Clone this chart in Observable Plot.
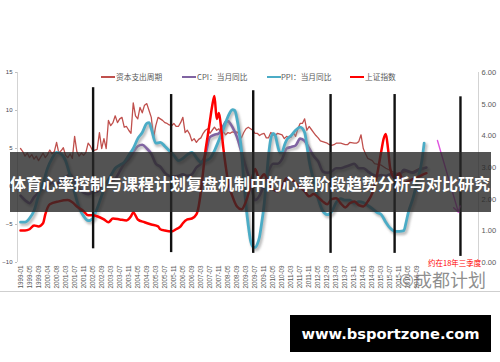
<!DOCTYPE html>
<html><head><meta charset="utf-8">
<script src="https://cdn.jsdelivr.net/npm/d3@7"></script>
<script src="https://cdn.jsdelivr.net/npm/@observablehq/plot@0.6"></script>
<style>
body{margin:0;background:#fff;}
#wrap{position:relative;width:500px;height:362px;overflow:hidden;background:#fff;font-family:"Liberation Sans",Arial,sans-serif;}
#chart{position:absolute;left:0;top:0;}
.sw{position:absolute;width:14px;}
.lt{position:absolute;top:71px;height:12px;line-height:12px;font-size:7.7px;font-family:"Noto Sans CJK SC",sans-serif;color:#595959;white-space:nowrap;}
#band{position:absolute;left:10px;top:152px;width:481px;height:60px;background:rgba(40,40,40,0.8);}
#title{position:absolute;left:0;top:153px;width:500px;height:60px;line-height:60px;text-align:center;color:#fff;font-weight:bold;font-size:16px;font-family:"Noto Sans CJK SC",sans-serif;white-space:nowrap;}
#sep{position:absolute;left:0;top:291px;width:500px;height:1px;background:#cfcfcf;}
#site{position:absolute;left:290px;top:315px;width:201px;height:37px;background:#000;color:#fff;font-weight:bold;font-size:14.7px;font-family:"DejaVu Sans",sans-serif;line-height:37px;text-align:center;}
#wm{position:absolute;left:399px;top:269px;height:20px;line-height:20px;font-size:18px;font-family:"Noto Sans CJK SC",sans-serif;color:rgba(105,105,105,0.75);white-space:nowrap;}
#note{position:absolute;left:428px;top:257px;height:11px;line-height:11px;font-size:7.5px;font-family:"Noto Sans CJK SC",sans-serif;color:#ff0000;white-space:nowrap;}
</style></head>
<body>
<div id="wrap">
  <div id="chart"></div>
  <div id="legend"></div>
  <div id="band"></div>
  <div id="title">体育心率控制与课程计划复盘机制中的心率阶段趋势分析与对比研究</div>
  <div id="note">约在18年三季度</div>
  <div id="wm">©成都计划</div>
  <div id="sep"></div>
  <div id="site">www.bsportzone.com</div>
</div>
<script>
// ---- data (x = month index from 1999-01, as in the source's monthly rows) ----
const xLabels = ["1999-01","1999-05","1999-09","2000-04","2000-08","2001-03","2001-07","2001-11","2002-05","2002-09","2003-03","2003-07","2003-11","2004-05","2004-09","2005-03","2005-07","2005-11","2006-05","2006-09","2007-03","2007-07","2007-11","2008-05","2008-09","2009-03","2009-07","2009-11","2010-05","2010-09","2011-03","2011-07","2011-11","2012-05","2012-09","2013-03","2013-07","2013-11","2014-05","2014-09","2015-03","2015-07","2015-11","2016-05","2016-09"];
const leftTicks = [-10, -5, 0, 5, 10, 15];
const rightTicks = [0, 1, 2, 3, 4, 5, 6];
const seriesNames = ["资本支出周期", "CPI：当月同比", "PPI：当月同比", "上证指数"];
const seriesColors = ["#c0504d", "#8064a2", "#4bacc6", "#ff0000"];

// 资本支出周期 (left axis)
const capex = [[0,5.0],[1,4.6],[2,4.0],[3,4.4],[4,3.8],[5,4.2],[6,3.6],[7,4.0],[8,3.4],[9,3.9],[10,4.4],[11,3.8],[12,4.2],[13,4.8],[14,4.3],[15,4.6],[16,5.8],[17,4.4],[18,4.7],[19,5.1],[20,4.1],[21,3.8],[22,4.3],[23,3.7],[24,6.6],[25,4.6],[26,4.0],[27,4.4],[28,4.1],[29,4.5],[30,5.7],[31,5.3],[32,4.7],[33,4.8],[34,4.9],[35,7.1],[36,5.0],[37,6.3],[38,5.0],[39,8.7],[40,8.0],[41,8.4],[42,9.3],[43,8.4],[44,8.9],[45,9.1],[46,7.8],[47,7.9],[48,7.4],[49,7.0],[50,11.0],[51,9.3],[52,8.9],[53,10.4],[54,9.7],[55,10.7],[56,10.9],[57,10.0],[58,9.1],[59,6.4],[60,8.0],[61,9.1],[62,8.9],[63,8.7],[64,8.4],[65,8.3],[66,8.1],[67,8.0],[68,8.3],[69,7.9],[70,7.9],[71,8.4],[72,9.1],[73,7.1],[74,7.4],[75,6.9],[76,6.0],[77,6.3],[78,5.8],[79,6.2],[80,6.4],[81,7.0],[82,7.4],[83,7.6],[84,7.0],[85,7.4],[86,7.8],[87,7.4],[88,7.6],[89,6.7],[90,7.2],[91,6.8],[92,7.1],[93,7.0],[94,7.2],[95,7.1],[96,7.2],[97,6.8],[98,6.4],[99,7.1],[100,7.6],[101,7.8],[102,7.6],[103,7.4],[104,7.0],[105,7.0],[106,6.7],[107,6.9],[108,7.0],[109,6.4],[110,6.4],[111,7.1],[112,6.8],[113,6.7],[114,7.0],[115,6.9],[116,6.8],[117,6.3],[118,6.6],[119,6.4],[120,6.5],[121,7.1],[122,6.6],[123,7.6],[124,8.3],[125,8.3],[126,8.9],[127,7.4],[128,7.9],[129,7.5],[130,7.1],[131,6.7],[132,6.4],[133,6.0],[134,5.9],[135,5.8],[136,5.7],[137,5.5],[138,5.4],[139,5.5],[140,5.7],[142,5.7],[144,5.5],[145,5.5],[146,5.8],[148,5.7],[149,5.7],[150,5.9],[151,6.8],[152,5.0],[153,4.3],[154,3.7],[156,3.4],[157,3.0],[160,2.8],[162,2.4],[164,2.1],[166,1.8],[168,1.7],[171,2.0],[173,1.8],[175,2.1],[177,2.4],[179,2.4]];

// CPI：当月同比 (left axis)
const cpi = [[0,-1.2],[2,-1.8],[4,-2.2],[6,-1.4],[8,-0.8],[10,-0.3],[12,0.0],[14,0.5],[16,0.3],[18,1.0],[20,1.2],[22,1.6],[24,0.6],[26,-0.3],[28,-0.8],[30,-1.0],[32,-0.8],[34,-0.7],[36,0.2],[38,0.5],[40,0.7],[42,1.0],[44,2.0],[46,3.0],[48,3.6],[50,4.5],[52,5.3],[54,5.5],[56,5.0],[58,4.3],[60,3.0],[62,2.6],[64,1.8],[66,1.4],[68,1.3],[70,1.4],[72,1.6],[74,1.4],[76,1.6],[78,2.5],[80,3.0],[82,4.2],[84,6.5],[86,6.8],[88,7.0],[90,8.0],[91,8.5],[92,8.6],[93,8.3],[94,7.8],[96,6.5],[98,4.5],[100,2.5],[102,0.5],[104,-1.8],[106,-1.2],[108,0.2],[110,2.0],[112,3.0],[114,3.0],[116,3.6],[118,5.0],[120,5.2],[122,5.4],[124,6.3],[126,6.0],[128,5.0],[130,4.0],[132,3.3],[134,2.0],[136,1.8],[138,2.0],[140,2.4],[142,2.4],[144,2.6],[146,2.8],[148,3.0],[150,2.4],[152,2.4],[154,2.0],[156,1.6],[158,1.4],[160,1.5],[162,1.4],[164,1.6],[166,1.6],[168,1.5],[170,2.2],[172,2.0],[174,1.8],[176,2.1],[178,2.3],[180,2.5]];

// PPI：当月同比 (left axis)
const ppi = [[0,-4.7],[2,-4.7],[4,-4.2],[6,-3.2],[8,-1.2],[10,0.4],[12,2.4],[14,3.7],[16,4.5],[18,4.3],[20,3.4],[22,1.4],[24,-0.8],[26,-2.8],[28,-3.9],[30,-4.5],[32,-4.2],[34,-2.9],[36,-1.2],[38,0.4],[40,1.4],[42,2.4],[44,2.8],[46,3.2],[48,4.1],[50,5.0],[52,6.3],[54,7.1],[56,8.3],[57,8.4],[58,7.6],[60,5.7],[62,5.8],[64,5.3],[66,4.7],[68,4.1],[70,3.4],[72,3.7],[74,4.2],[76,4.5],[78,3.8],[80,3.2],[82,3.4],[84,3.7],[86,4.7],[88,6.1],[90,7.6],[92,9.2],[94,10.1],[95,10.0],[96,8.9],[97,7.1],[98,4.7],[99,0.8],[100,-2.5],[101,-5.1],[102,-7.1],[103,-7.9],[104,-8.0],[105,-7.6],[106,-6.6],[107,-4.7],[108,-2.5],[109,0.8],[110,4.1],[111,6.3],[112,7.0],[113,6.7],[114,5.4],[115,4.5],[116,4.5],[117,5.4],[118,6.1],[120,6.7],[122,7.4],[124,7.8],[126,7.1],[127,5.4],[128,3.4],[130,0.8],[132,-1.6],[134,-3.2],[136,-3.7],[138,-3.3],[140,-2.1],[142,-1.6],[144,-1.8],[146,-1.8],[148,-2.2],[150,-2.0],[152,-2.1],[154,-2.5],[156,-2.9],[158,-3.4],[160,-3.7],[162,-4.7],[164,-5.5],[166,-5.9],[168,-5.9],[170,-5.8],[171,-4.7],[172,-3.4],[174,-1.6],[176,0.8],[178,3.4],[179,5.7]];

// 上证指数 (right axis, 0–6)
const sse = [[0,1.01],[2,1.01],[4,1.05],[6,1.17],[8,1.14],[10,1.24],[11,1.52],[13,1.84],[17,1.93],[21,1.97],[23,1.90],[25,1.77],[28,1.62],[30,1.49],[32,1.49],[34,1.46],[37,1.36],[39,1.27],[41,1.39],[44,1.36],[47,1.33],[49,1.46],[50,1.58],[52,1.36],[55,1.27],[58,1.20],[61,1.14],[62,1.05],[64,1.01],[67,0.98],[69,1.05],[71,1.14],[72,1.24],[74,1.36],[76,1.39],[78,1.52],[79,1.77],[80,2.25],[81,2.88],[82,3.52],[83,3.99],[84,4.47],[85,4.94],[86,5.26],[87,4.53],[88,4.72],[89,4.22],[90,3.58],[91,3.04],[92,2.57],[94,2.09],[96,1.77],[98,1.68],[100,1.93],[102,2.41],[104,2.95],[106,2.63],[108,2.79],[110,2.50],[112,2.31],[114,2.25],[116,2.41],[118,2.66],[120,2.63],[122,2.50],[124,2.38],[126,2.25],[128,2.09],[130,2.16],[132,2.06],[134,1.93],[136,1.84],[138,2.00],[140,2.03],[142,1.87],[144,1.74],[146,1.87],[148,1.93],[150,1.81],[152,1.77],[154,1.93],[156,2.19],[158,2.73],[160,3.52],[161,3.90],[162,4.06],[163,3.58],[164,2.95],[166,2.66],[168,2.82],[170,2.50],[172,2.57],[174,2.63],[176,2.69],[178,2.76],[180,2.82]];

// cycle turning-point markers (month index, top, bottom on left axis)
const cycleIdx = [32.2, 66.8, 103.2, 137.5, 165.9, 195.1];
const cycleTop = [13.0, 12.1, 12.6, 12.1, 12.1, 11.8];
const cycleBottom = [-8.2, -8.7, -8.8, -8.8, -8.8, -9.2];

// forecast arrow (month index, left-axis value)
const forecastStart = [184.9, 6.05];
const forecastEnd = [194.2, -3.4];

// ---- build ----
const toLeft = r => r * 25 / 6 - 10;
const fromLeft = v => (v + 10) * 6 / 25;
const xDomain = [-1.33, 203.1];
const pts = arr => arr.map(([x, y]) => ({x, y}));
const ssePts = sse.map(([x, r]) => ({x, y: toLeft(r)}));
const SH = "#8a8a8b";

const chart = Plot.plot({
  width: 500, height: 295,
  marginLeft: 17, marginRight: 22, marginTop: 72, marginBottom: 33,
  style: {fontFamily: "'Liberation Sans', Arial, sans-serif", background: "transparent"},
  x: {domain: xDomain},
  y: {domain: [-10, 15]},
  marks: [
    Plot.ruleX(xDomain, {stroke: "#c8c8c8", strokeWidth: 0.8}),
    Plot.axisY(leftTicks, {anchor: "left", tickSize: 2, tickPadding: 3, fontSize: 6, fill: "#3f4550", stroke: "#bfbfbf", label: null}),
    Plot.axisY(rightTicks.map(toLeft), {anchor: "right", tickSize: 0, tickPadding: 3, fontSize: 7.5, fill: "#595959", label: null, tickFormat: d => fromLeft(d).toFixed(2)}),
    Plot.axisX(xLabels.map((_, k) => k * 4), {anchor: "bottom", tickRotate: -90, tickSize: 0, tickPadding: 3, fontSize: 6.3, fill: "#595959", label: null, tickFormat: i => xLabels[Math.round(i / 4)]}),
    Plot.line(pts(capex), {x: "x", y: "y", stroke: seriesColors[0], strokeWidth: 1.3}),
    Plot.line(pts(cpi), {x: "x", y: "y", stroke: SH, strokeWidth: 3.5, strokeOpacity: 0.5, dx: 1.5, dy: 2, curve: "monotone-x"}),
    Plot.line(pts(cpi), {x: "x", y: "y", stroke: seriesColors[1], strokeWidth: 2.6, curve: "monotone-x"}),
    Plot.line(pts(ppi), {x: "x", y: "y", stroke: SH, strokeWidth: 3.8, strokeOpacity: 0.55, dx: 1.5, dy: 2, curve: "monotone-x"}),
    Plot.line(pts(ppi), {x: "x", y: "y", stroke: seriesColors[2], strokeWidth: 2.8, curve: "monotone-x"}),
    Plot.line(ssePts, {x: "x", y: "y", stroke: seriesColors[3], strokeWidth: 2.5, curve: "monotone-x"}),
    Plot.ruleX(cycleIdx, {x: d => d, y1: (d, i) => cycleTop[i], y2: (d, i) => cycleBottom[i], stroke: "#111", strokeWidth: 2.4}),
    Plot.arrow([{}], {x1: () => forecastStart[0], y1: () => forecastStart[1], x2: () => forecastEnd[0], y2: () => forecastEnd[1], stroke: "#e055e0", strokeWidth: 1.4, headLength: 7})
  ]
});

// soft shadow under CPI / PPI
const ns = "http://www.w3.org/2000/svg";
const defs = document.createElementNS(ns, "defs");
defs.innerHTML = '<filter id="sh" filterUnits="userSpaceOnUse" x="0" y="0" width="500" height="300"><feGaussianBlur stdDeviation="1.3"/></filter>';
chart.insertBefore(defs, chart.firstChild);
chart.querySelectorAll('[stroke="' + SH + '"]').forEach(el => el.setAttribute("filter", "url(#sh)"));
document.getElementById("chart").appendChild(chart);

// legend
const legendPos = [[101, 116, 1.8], [182, 197, 2.6], [267, 281, 2.6], [350, 365, 2.6]];
const lg = document.getElementById("legend");
seriesNames.forEach((name, k) => {
  const [sx, tx, th] = legendPos[k];
  const sw = document.createElement("div");
  sw.className = "sw";
  sw.style.cssText = `left:${sx}px;top:${77 - th / 2}px;height:${th}px;background:${seriesColors[k]}`;
  lg.appendChild(sw);
  const t = document.createElement("div");
  t.className = "lt";
  t.style.left = tx + "px";
  t.textContent = name;
  lg.appendChild(t);
});
</script>
</body></html>
